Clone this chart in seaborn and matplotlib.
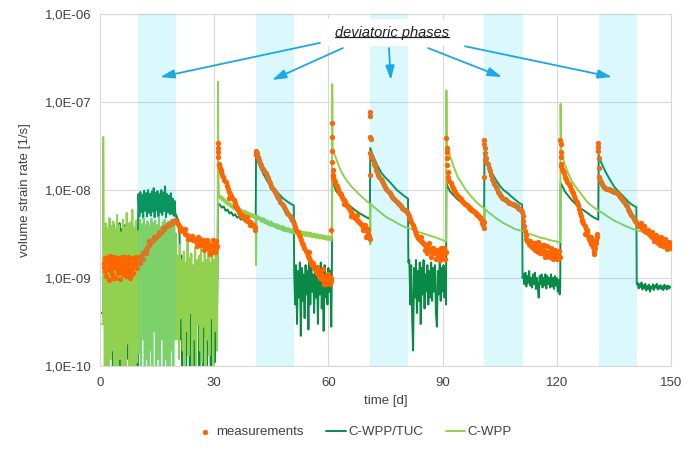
import numpy as np
import pandas as pd
import matplotlib
matplotlib.use("Agg")
import matplotlib.pyplot as plt
from matplotlib.ticker import FixedLocator, FuncFormatter, NullLocator
from matplotlib.lines import Line2D
import seaborn as sns

# ---------------- data (time [d], rate in units of 1e-9 1/s) ----------------
UNIT = 1e-9

MEAS_A = [(1.0,1.5),(1.1,1.35),(1.2,1.2),(1.4,1.7),(1.5,1.6),(1.6,1.05),(1.8,1.6),(1.9,1.25),(2.0,1.3),(2.2,1.75),(2.3,1.5),(2.4,0.95),(2.6,1.45),(2.7,1.8),(2.8,1.2),(3.0,1.7),(3.1,1.3),(3.2,1.1),(3.4,1.55),(3.5,1.0),(3.6,1.35),(3.8,1.75),(3.9,1.45),(4.0,1.0),(4.2,1.6),(4.3,1.7),(4.4,1.25),(4.6,1.7),(4.7,1.3),(4.8,1.15),(5.0,1.5),(5.1,1.2),(5.2,0.98),(5.4,1.65),(5.5,1.55),(5.6,1.3),(5.8,1.75),(5.9,1.4),(6.0,1.1),(6.2,1.45),(6.3,1.75),(6.4,1.2),(6.6,1.7),(6.7,1.25),(6.8,1.05),(7.0,1.6),(7.1,1.15),(7.2,1.35),(7.4,1.75),(7.5,1.5),(7.6,1.2),(7.8,1.5),(7.9,1.65),(8.0,1.0),(8.2,1.65),(8.3,1.1),(8.4,1.3),(8.6,1.7),(8.7,1.45),(8.8,1.15),(9.0,1.55),(9.1,1.6),(9.2,1.4),(9.4,1.75),(9.5,1.5),(9.6,1.3),(9.8,1.6),(9.9,1.7)]
MEAS_B = [(10.0,1.6),(10.4,1.75),(10.6,1.5),(10.8,1.8),(11.2,1.9),(11.4,1.65),(11.6,2.0),(12.0,2.1),(12.2,1.9),(12.4,2.2),(12.8,2.35),(13.0,2.6),(13.2,2.5),(13.6,2.6),(14.0,2.7),(14.2,2.9),(14.4,2.85),(14.8,2.95),(15.2,3.05),(15.4,3.3),(15.6,3.2),(16.0,3.3),(16.4,3.45),(16.6,3.7),(16.8,3.6),(17.2,3.75),(17.6,3.9),(17.8,4.1),(18.0,4.0),(18.4,4.15),(18.8,4.25),(19.0,4.5),(19.2,4.35),(19.6,4.4),(19.8,4.6),(20.0,4.3)]
MEAS_C = [(20.4,4.1),(20.8,3.9),(21.0,3.4),(21.2,3.7),(21.6,3.5),(22.0,3.4),(22.2,3.6),(22.4,3.2),(22.8,3.1),(23.0,2.8),(23.2,3.0),(23.6,2.9),(24.0,2.8),(24.2,3.0),(24.4,2.7),(24.8,2.75),(25.2,2.6),(25.4,2.3),(25.6,2.5),(25.8,2.9),(26.0,2.6),(26.2,2.8),(26.4,2.4),(26.8,2.5),(27.0,2.7),(27.2,2.3),(27.4,2.1),(27.6,2.45),(28.0,2.2),(28.2,2.7),(28.4,2.5),(28.8,2.1),(28.9,1.85),(29.2,2.35),(29.4,1.95),(29.6,2.2),(29.8,2.7),(30.0,2.4),(30.2,2.0),(30.4,2.2),(30.6,2.6),(30.8,2.3)]
MEAS_D = [(31.0,34),(31.0,27),(31.05,30),(31.1,24),(31.2,20),(31.35,19),(31.5,18),(31.7,17),(31.9,16),(32.1,15),(32.4,14),(32.7,13),(33.0,12.2),(33.3,11.2),(33.6,10.3),(33.9,9.6),(34.0,8.2),(34.2,9.0),(34.5,8.5),(34.8,8.1),(35.1,7.6),(35.4,7.1),(35.5,6.5),(35.7,6.6),(36.0,6.2),(36.3,5.9),(36.6,5.6),(36.9,5.4),(37.0,5.0),(37.2,5.2),(37.5,5.0),(37.8,4.9),(38.1,4.8),(38.4,4.6),(38.5,4.9),(38.7,4.5),(39.0,4.4),(39.3,4.3),(39.5,4.0),(39.6,4.2),(39.9,4.1),(40.2,4.0),(40.5,3.9),(40.6,3.5),(40.8,3.8)]
MEAS_E = [(41.0,28),(41.0,25),(41.1,27),(41.25,26),(41.4,24),(41.6,23),(41.8,22),(42.0,20.5),(42.3,19),(42.6,18),(42.9,17.3),(43.2,16.5),(43.5,15.5),(43.8,14.5),(44.1,13.6),(44.4,12.8),(44.7,12.0),(45.0,11.2),(45.3,10.6),(45.6,10.1),(45.9,9.6),(46.2,9.1),(46.5,8.6),(46.8,8.2),(47.1,7.8),(47.4,7.4),(47.7,7.0),(48.0,6.7),(48.3,6.4),(48.6,6.1),(48.9,5.8),(49.2,5.5),(49.5,5.3),(49.8,5.0),(50.1,4.8),(50.4,4.6),(50.7,4.4),(51.0,4.1),(51.3,3.8),(51.6,3.5),(51.9,3.3),(52.2,3.1),(52.5,2.9),(52.8,2.7),(53.1,2.5),(53.4,2.35),(53.7,2.2),(54.0,2.05),(54.3,1.9),(54.6,1.8),(54.9,1.7),(55.0,2.0),(55.2,1.6),(55.5,1.5),(55.8,1.4),(56.0,1.5),(56.1,1.3),(56.4,1.25),(56.7,1.2),(57.0,1.15),(57.0,1.35),(57.3,1.1),(57.5,1.2),(57.6,1.05),(57.9,1.0),(58.0,1.1),(58.2,0.98),(58.5,0.95),(58.5,1.25),(58.8,0.92),(58.8,0.85),(59.1,0.9),(59.0,1.05),(59.4,0.95),(59.5,0.85),(59.7,0.9),(59.8,1.0),(60.0,0.93),(60.0,1.1),(60.3,0.95),(60.5,0.85),(60.6,0.92),(60.8,1.0),(60.8,3.5)]
MEAS_F = [(61.0,58),(61.0,40),(61.0,28),(61.05,21),(61.1,17),(61.15,15),(61.2,14),(61.4,13),(61.7,12.2),(62.0,11.5),(62.3,11.0),(62.6,10.3),(62.9,9.6),(63.2,9.0),(63.5,8.4),(63.8,8.0),(64.0,7.0),(64.1,7.6),(64.4,7.3),(64.7,6.9),(65.0,6.5),(65.3,6.2),(65.6,5.9),(65.9,5.6),(66.0,5.0),(66.2,5.3),(66.5,5.1),(66.8,4.9),(67.1,4.8),(67.4,4.6),(67.5,5.2),(67.7,4.4),(68.0,4.3),(68.3,4.2),(68.6,4.1),(68.9,4.0),(69.0,3.5),(69.2,3.8),(69.5,3.7),(69.6,4.0),(69.8,3.5),(70.0,2.9),(70.1,3.4),(70.2,3.0),(70.4,3.2),(70.5,3.6),(70.7,3.0),(70.8,2.8)]
MEAS_G = [(70.9,15),(71.0,77),(71.05,70),(71.0,40),(71.1,38),(71.05,26),(71.3,24),(71.6,22),(71.9,20),(72.2,18.5),(72.5,17),(72.8,16),(73.1,15),(73.4,14),(73.7,13.2),(74.0,12.5),(74.3,11.9),(74.6,11.4),(74.9,10.9),(75.2,10.4),(75.5,10.0),(75.8,9.6),(76.1,9.2),(76.4,8.8),(76.7,8.4),(77.0,8.1),(77.3,7.8),(77.6,7.6),(77.9,7.3),(78.2,7.1),(78.5,6.9),(78.8,6.7),(79.1,6.5),(79.4,6.3),(79.7,6.1),(80.0,6.0),(80.3,5.8),(80.6,5.6),(80.9,5.3),(81.2,5.0),(81.5,4.7),(81.8,4.3),(82.1,4.0),(82.4,3.7),(82.7,3.4),(83.0,3.2),(83.3,3.0),(83.6,2.85),(83.9,2.75),(84.2,2.65),(84.4,2.9),(84.5,2.55),(84.8,2.5),(85.1,2.45),(85.4,2.4),(85.5,2.1),(85.7,2.3),(86.0,2.25),(86.0,1.9),(86.3,2.2),(86.5,2.5),(86.6,2.1),(86.9,2.05),(87.0,1.75),(87.2,2.0),(87.5,1.95),(87.6,2.2),(87.8,1.9),(88.1,1.9),(88.2,1.65),(88.4,1.85),(88.6,2.1),(88.7,1.85),(89.0,1.9),(89.2,1.6),(89.3,1.8),(89.6,1.95),(89.6,2.2),(89.9,1.85),(90.0,1.7),(90.2,2.0),(90.4,2.2),(90.5,1.9),(90.7,1.65),(90.8,1.95)]
MEAS_H = [(91.0,39),(91.05,30),(91.1,27),(91.1,23),(91.15,19),(91.3,16),(91.5,14),(91.8,12.8),(92.1,12.0),(92.4,11.2),(92.7,10.6),(93.0,10.0),(93.3,9.5),(93.6,9.0),(93.9,8.7),(94.2,8.4),(94.5,8.1),(94.8,7.8),(95.1,7.5),(95.4,7.3),(95.7,7.1),(96.0,6.9),(96.3,6.7),(96.6,6.5),(96.9,6.3),(97.2,6.2),(97.5,6.0),(97.8,5.9),(98.1,5.7),(98.4,5.6),(98.7,5.4),(99.0,5.3),(99.3,5.1),(99.6,5.0),(99.9,4.8),(100.2,4.7),(100.4,4.2),(100.5,4.5),(100.6,4.0),(100.8,4.3),(100.9,3.7)]
MEAS_I = [(101.0,37),(101.0,33),(101.05,30),(101.1,26),(101.15,22),(101.0,14),(101.3,23),(101.5,21),(101.8,19.5),(102.1,18),(102.4,16.5),(102.7,15),(103.0,13.5),(103.3,12.5),(103.6,11.6),(103.9,10.8),(104.2,10.2),(104.5,9.6),(104.8,9.2),(105.1,8.8),(105.4,8.5),(105.7,8.2),(106.0,8.0),(106.3,7.8),(106.6,7.6),(106.9,7.5),(107.2,7.3),(107.5,7.2),(107.8,7.1),(108.1,7.0),(108.4,6.9),(108.7,6.8),(109.0,6.7),(109.3,6.6),(109.6,6.5),(109.9,6.3),(110.2,6.1),(110.5,5.9),(110.8,5.6),(111.0,5.0),(111.2,4.4),(111.4,3.9),(111.6,3.4),(111.8,3.1),(112.0,2.8),(112.3,2.6),(112.6,2.45),(112.9,2.35),(113.0,2.6),(113.2,2.3),(113.5,2.4),(113.8,2.2),(114.0,2.5),(114.1,2.35),(114.4,2.1),(114.7,2.3),(115.0,2.0),(115.0,2.55),(115.3,2.2),(115.5,1.9),(115.6,1.95),(115.9,2.15),(116.0,2.4),(116.2,1.9),(116.5,2.1),(116.7,2.4),(116.8,1.85),(117.0,1.75),(117.1,2.0),(117.4,1.8),(117.5,2.3),(117.7,1.95),(118.0,1.9),(118.3,1.75),(118.5,2.2),(118.6,2.0),(118.9,1.8),(119.0,1.65),(119.2,1.85),(119.5,1.7),(119.5,2.1),(119.8,1.9),(120.0,1.65),(120.1,1.75),(120.4,1.8),(120.5,2.05),(120.7,1.7),(120.9,1.75)]
MEAS_J = [(120.9,37),(121.0,33),(121.0,27),(121.05,24),(121.1,20),(121.2,18.5),(121.4,17.5),(121.6,16.5),(121.9,15.5),(122.2,14.2),(122.5,13.2),(122.8,12.3),(123.1,11.6),(123.4,11.0),(123.7,10.4),(124.0,9.8),(124.3,9.2),(124.6,8.6),(124.9,8.0),(125.2,7.3),(125.5,6.7),(125.8,6.1),(126.1,5.5),(126.4,5.0),(126.5,4.4),(126.7,4.6),(127.0,4.2),(127.3,3.9),(127.5,3.2),(127.6,3.6),(127.9,3.3),(128.0,3.5),(128.2,3.0),(128.5,2.8),(128.8,2.6),(129.0,2.9),(129.1,2.45),(129.4,2.25),(129.5,2.6),(129.7,2.05),(129.8,1.85),(130.0,2.2),(130.2,2.7),(130.3,2.5),(130.5,3.2),(130.6,2.9)]
MEAS_K = [(130.8,34),(130.85,31),(130.9,28),(131.0,23),(131.05,18),(131.1,14),(131.3,13),(131.5,12.2),(131.8,11.6),(132.1,11.2),(132.4,10.9),(132.7,10.6),(133.0,10.4),(133.3,10.3),(133.6,10.2),(133.9,10.0),(134.2,9.9),(134.5,9.8),(134.8,9.7),(135.1,9.6),(135.4,9.4),(135.7,9.2),(136.0,9.0),(136.3,8.7),(136.6,8.4),(136.9,8.1),(137.2,7.8),(137.5,7.5),(137.8,7.1),(138.1,6.8),(138.4,6.5),(138.7,6.1),(139.0,5.8),(139.3,5.5),(139.6,5.2),(139.9,4.9),(140.2,4.7),(140.5,4.5),(140.8,4.3),(141.1,4.1),(141.4,4.0),(141.7,3.9),(142.0,3.8),(142.0,4.2),(142.3,3.7),(142.6,3.6),(142.9,3.5),(143.0,3.9),(143.2,3.4),(143.5,3.35),(143.8,3.3),(144.0,3.5),(144.1,3.2),(144.4,3.1),(144.7,3.0),(145.0,2.95),(145.0,3.3),(145.3,2.9),(145.5,2.6),(145.6,2.85),(145.9,2.8),(146.0,3.1),(146.2,2.75),(146.5,2.7),(146.5,2.5),(146.8,2.65),(147.0,2.4),(147.1,2.6),(147.4,2.55),(147.5,2.9),(147.7,2.5),(148.0,2.5),(148.0,2.3),(148.3,2.45),(148.5,2.75),(148.6,2.4),(148.9,2.4),(149.0,2.15),(149.2,2.35),(149.5,2.3),(149.5,2.55),(149.8,2.25),(150.0,2.2),(150.0,2.4)]

# C-WPP/TUC model (dark green)
TUC_A = [(0.4,0.4),(0.8,0.4),(1.125,3.6),(1.375,0.15),(1.625,3.9),(1.875,0.4),(2.125,3.4),(2.375,0.08),(2.625,4.1),(2.875,0.22),(3.125,3.7),(3.375,0.06),(3.625,4.0),(3.875,0.18),(4.125,3.5),(4.375,0.07),(4.625,3.9),(4.875,0.3),(5.125,4.2),(5.375,0.09),(5.625,3.6),(5.875,0.14),(6.125,3.8),(6.375,0.05),(6.625,4.0),(6.875,0.25),(7.125,3.5),(7.375,0.12),(7.625,4.1),(7.875,0.06),(8.125,3.7),(8.375,0.16),(8.625,3.9),(8.875,0.08),(9.125,3.6),(9.375,0.2),(9.625,4.0),(9.875,0.1)]
TUC_B = [(10.0,4.0),(10.1,9.0),(10.35,5.0),(10.6,9.5),(10.85,5.6),(11.1,8.8),(11.35,4.8),(11.6,9.8),(11.85,5.8),(12.1,9.2),(12.35,5.0),(12.6,10.0),(12.85,5.5),(13.1,9.0),(13.35,5.1),(13.6,9.6),(13.85,5.7),(14.1,10.5),(14.35,4.9),(14.6,9.3),(14.85,5.9),(15.1,9.7),(15.35,5.0),(15.6,8.9),(15.85,5.6),(16.1,10.0),(16.35,5.2),(16.6,9.4),(16.85,5.8),(17.1,11.0),(17.35,4.9),(17.6,9.0),(17.85,5.6),(18.1,8.6),(18.35,5.3),(18.6,9.2),(18.85,5.4),(19.1,8.0),(19.35,5.1),(19.6,7.5),(19.85,5.0)]
TUC_C = [(20.0,5.2),(20.3,4.8),(20.6,4.5),(20.9,3.0),(21.1,0.2),(21.35,1.8),(21.6,0.08),(21.85,1.5),(22.1,0.3),(22.35,1.2),(22.6,0.06),(22.85,1.4),(23.1,0.15),(23.35,1.0),(23.6,0.07),(23.85,1.3),(24.1,0.25),(24.35,0.9),(24.6,0.06),(24.85,1.1),(25.1,0.12),(25.35,1.4),(25.6,0.35),(25.85,1.0),(26.1,0.08),(26.35,1.2),(26.6,0.18),(26.85,0.9),(27.1,0.06),(27.35,1.3),(27.6,0.22),(27.85,1.0),(28.1,0.09),(28.35,1.1),(28.6,0.14),(28.85,1.2),(29.1,0.06),(29.35,0.9),(29.6,0.28),(29.85,1.0),(30.1,0.11),(30.35,1.3),(30.6,0.2),(30.85,1.0)]
TUC_D = [(31.0,7.0),(31.5,6.8),(32.0,6.3),(32.5,6.5),(33.0,5.8),(33.5,6.0),(34.0,5.4),(34.5,5.6),(35.0,5.1),(35.5,5.3),(36.0,4.85),(36.5,5.0),(37.0,4.6),(37.5,4.75),(38.0,4.4),(38.5,4.5),(39.0,4.15),(39.5,4.25),(40.0,3.95),(40.5,4.0),(40.9,3.8),(41.0,24),(41.5,21),(42.0,18.5),(43.0,15),(44.0,12.5),(45.0,11),(46.0,10),(47.0,9.0),(48.0,8.1),(49.0,7.5),(50.0,7.0),(50.9,6.7),(51.0,1.2),(51.25,0.5),(51.5,1.4),(51.75,0.3),(52.0,1.2),(52.25,0.6),(52.5,1.5),(52.75,0.22),(53.0,1.3),(53.25,0.55),(53.5,1.1),(53.75,0.35),(54.0,1.4),(54.25,0.65),(54.5,1.2),(54.75,0.26),(55.0,1.5),(55.25,0.5),(55.5,1.3),(55.75,0.7),(56.0,1.1),(56.25,0.4),(56.5,1.4),(56.75,0.6),(57.0,1.2),(57.25,0.3),(57.5,1.3),(57.75,0.65),(58.0,1.5),(58.25,0.45),(58.5,1.2),(58.75,0.25),(59.0,1.4),(59.25,0.6),(59.5,1.1),(59.75,0.5),(60.0,1.3),(60.25,0.7),(60.5,1.2),(60.75,0.28),(60.9,1.0)]
TUC_E = [(61.0,14),(61.3,12),(62.0,9.8),(63.0,8.6),(64.0,7.6),(65.0,7.0),(66.0,6.4),(67.0,5.9),(68.0,5.5),(69.0,5.2),(70.0,4.9),(70.9,4.7),(71.0,30),(71.5,26),(72.0,23),(73.0,18.5),(74.0,15.5),(75.0,13.8),(76.0,12.5),(77.0,11.2),(78.0,10.0),(79.0,9.2),(80.0,8.5),(80.9,8.0),(81.0,1.5),(81.25,1.6),(81.5,0.5),(81.75,1.4),(82.0,0.35),(82.25,0.15),(82.5,1.3),(82.75,0.6),(83.0,1.6),(83.25,0.4),(83.5,1.2),(83.75,0.55),(84.0,1.5),(84.25,0.3),(84.5,1.3),(84.75,0.65),(85.0,1.6),(85.25,0.45),(85.5,1.1),(85.75,0.7),(86.0,1.4),(86.25,0.5),(86.5,1.2),(86.75,0.6),(87.0,1.5),(87.25,0.55),(87.5,1.3),(87.75,0.7),(88.0,1.4),(88.25,0.4),(88.5,0.28),(88.75,1.2),(89.0,0.65),(89.25,1.5),(89.5,0.55),(89.75,1.3),(90.0,0.7),(90.25,1.4),(90.5,0.6),(90.75,1.2),(90.9,0.5)]
TUC_F = [(91.0,12),(91.5,10.5),(92.0,9.6),(93.0,8.6),(94.0,7.8),(95.0,7.2),(96.0,6.6),(97.0,6.1),(98.0,5.7),(99.0,5.3),(100.0,5.0),(100.9,4.8),(101.0,26),(101.5,22.5),(102.0,19.5),(103.0,15.5),(104.0,13),(105.0,11.2),(106.0,10),(107.0,9.3),(108.0,8.5),(109.0,7.8),(110.0,7.2),(110.9,6.8),(111.0,1.0),(111.25,1.1),(111.5,0.85),(111.75,1.15),(112.0,0.8),(112.25,1.05),(112.5,0.88),(112.75,1.2),(113.0,0.82),(113.25,1.0),(113.5,0.78),(113.75,1.1),(114.0,0.85),(114.25,1.15),(114.5,0.75),(114.75,1.0),(115.0,0.8),(115.25,0.6),(115.5,1.05),(115.75,0.85),(116.0,1.1),(116.25,0.78),(116.5,1.0),(116.75,0.83),(117.0,1.1),(117.25,0.76),(117.5,1.05),(117.75,0.85),(118.0,1.0),(118.25,0.78),(118.5,1.1),(118.75,0.8),(119.0,1.0),(119.25,0.75),(119.5,1.05),(119.75,0.82),(120.0,1.0),(120.25,0.7),(120.5,0.95),(120.75,0.65),(120.9,0.8)]
TUC_G = [(121.0,12),(121.5,11),(122.0,9.8),(123.0,8.6),(124.0,7.6),(125.0,6.9),(126.0,6.3),(127.0,5.9),(128.0,5.5),(129.0,5.1),(130.0,4.8),(130.9,4.6),(131.0,25),(131.5,21.5),(132.0,19),(133.0,15.5),(134.0,13),(135.0,11),(136.0,9.8),(137.0,8.9),(138.0,8.0),(139.0,7.2),(140.0,6.7),(140.9,6.4),(141.0,0.85),(141.25,0.88),(141.5,0.76),(141.75,0.85),(142.0,0.79),(142.25,0.89),(142.5,0.74),(142.75,0.83),(143.0,0.77),(143.25,0.86),(143.5,0.72),(143.75,0.81),(144.0,0.75),(144.25,0.84),(144.5,0.7),(144.75,0.8),(145.0,0.76),(145.25,0.85),(145.5,0.73),(145.75,0.82),(146.0,0.78),(146.25,0.86),(146.5,0.74),(146.75,0.81),(147.0,0.76),(147.25,0.83),(147.5,0.75),(147.75,0.8),(148.0,0.73),(148.25,0.84),(148.5,0.77),(148.75,0.81),(149.0,0.74),(149.25,0.82),(149.5,0.76),(149.75,0.8),(150.0,0.78)]

# C-WPP model (light green)
WPP_A = [(0.4,0.3),(0.8,0.3),(0.85,40),(0.95,2.5),(1.0,3.8),(1.25,0.08),(1.5,4.2),(1.75,0.06),(2.0,3.5),(2.25,0.1),(2.5,4.8),(2.75,0.12),(3.0,3.9),(3.25,0.15),(3.5,4.4),(3.75,0.08),(4.0,3.6),(4.25,0.07),(4.5,5.2),(4.75,0.09),(5.0,4.0),(5.25,0.12),(5.5,3.3),(5.75,0.07),(6.0,4.6),(6.25,0.06),(6.5,3.8),(6.75,0.1),(7.0,5.5),(7.25,0.18),(7.5,4.1),(7.75,0.08),(8.0,4.3),(8.25,0.1),(8.5,6.0),(8.75,0.09),(9.0,3.7),(9.25,0.07),(9.5,4.5),(9.75,0.11),(10.0,3.4)]
WPP_B = [(10.25,0.14),(10.5,4.6),(10.75,0.09),(11.0,4.1),(11.25,0.2),(11.5,4.8),(11.75,0.08),(12.0,4.0),(12.25,0.12),(12.5,4.4),(12.75,0.06),(13.0,3.9),(13.25,0.15),(13.5,4.7),(13.75,0.09),(14.0,4.2),(14.25,0.25),(14.5,4.5),(14.75,0.08),(15.0,4.0),(15.25,0.12),(15.5,4.9),(15.75,0.09),(16.0,3.8),(16.25,0.2),(16.5,4.3),(16.75,0.07),(17.0,4.6),(17.25,0.12),(17.5,4.1),(17.75,0.1),(18.0,4.4),(18.25,0.06),(18.5,3.9),(18.75,0.15),(19.0,4.5),(19.25,0.08),(19.5,4.0),(19.75,0.2),(20.0,3.2)]
WPP_C = [(20.25,0.2),(20.5,1.8),(20.75,0.12),(21.0,2.4),(21.25,0.35),(21.5,1.6),(21.75,0.15),(22.0,2.0),(22.25,0.06),(22.5,1.5),(22.75,0.25),(23.0,2.6),(23.25,0.13),(23.5,1.7),(23.75,0.4),(24.0,1.9),(24.25,0.1),(24.5,1.4),(24.75,0.2),(25.0,2.2),(25.25,0.07),(25.5,1.6),(25.75,0.3),(26.0,1.8),(26.25,0.15),(26.5,2.3),(26.75,0.11),(27.0,1.5),(27.25,0.28),(27.5,1.9),(27.75,0.06),(28.0,1.6),(28.25,0.2),(28.5,2.1),(28.75,0.13),(29.0,1.5),(29.25,0.35),(29.5,1.8),(29.75,0.1),(30.0,1.6),(30.25,0.25),(30.5,1.9),(30.75,0.15),(30.9,1.5)]
WPP_D = [(31.0,170),(31.1,15),(31.25,8.8),(31.5,8.0),(31.75,8.6),(32.0,7.7),(32.25,8.3),(32.5,7.4),(32.75,7.9),(33.0,7.0),(33.25,7.6),(33.5,6.8),(33.75,7.3),(34.0,6.6),(34.25,7.1),(34.5,6.3),(34.75,6.8),(35.0,6.1),(35.25,6.7),(35.5,5.9),(35.75,6.4),(36.0,5.8),(36.25,6.3),(36.5,5.6),(36.75,6.1),(37.0,5.5),(37.25,6.0),(37.5,5.4),(37.75,5.8),(38.0,5.3),(38.25,5.8),(38.5,5.1),(38.75,5.6),(39.0,5.1),(39.25,5.5),(39.5,4.9),(39.75,5.4),(40.0,4.9),(40.25,5.3),(40.5,4.8),(40.75,5.2),(40.95,4.9),(41.0,1.4),(41.1,5.0),(41.25,4.7),(41.5,5.1),(41.75,4.6),(42.0,4.9),(42.25,4.4),(42.5,4.8),(42.75,4.3),(43.0,4.8),(43.25,4.2),(43.5,4.6),(43.75,4.1),(44.0,4.5),(44.25,4.0),(44.5,4.4),(44.75,3.9),(45.0,4.4),(45.25,3.9),(45.5,4.2),(45.75,3.8),(46.0,4.1),(46.25,3.7),(46.5,4.1),(46.75,3.6),(47.0,4.0),(47.25,3.6),(47.5,3.9),(47.75,3.5),(48.0,3.9),(48.25,3.4),(48.5,3.8),(48.75,3.4),(49.0,3.7),(49.25,3.35),(49.5,3.7),(49.75,3.3),(50.0,3.6),(50.25,3.25),(50.5,3.6),(50.75,3.2),(51.0,3.55),(51.25,3.2),(51.5,3.5),(51.75,3.15),(52.0,3.45),(52.25,3.1),(52.5,3.45),(52.75,3.1),(53.0,3.4),(53.25,3.05),(53.5,3.35),(53.75,3.0),(54.0,3.35),(54.25,3.0),(54.5,3.3),(54.75,2.95),(55.0,3.3),(55.25,2.95),(55.5,3.25),(55.75,2.9),(56.0,3.2),(56.25,2.9),(56.5,3.2),(56.75,2.85),(57.0,3.15),(57.25,2.85),(57.5,3.1),(57.75,2.8),(58.0,3.1),(58.25,2.8),(58.5,3.05),(58.75,2.75),(59.0,3.05),(59.25,2.75),(59.5,3.0),(59.75,2.7),(60.0,3.0),(60.25,2.7),(60.5,2.95),(60.75,2.65),(60.95,2.9)]
WPP_E = [(61.0,160),(61.1,30),(61.5,26),(62.0,23),(63.0,17.5),(64.0,14.5),(65.0,12.5),(66.0,11),(67.0,10),(68.0,9.0),(69.0,8.2),(70.0,7.5),(70.9,7.0),(71.0,2.4),(71.1,6.9),(72.0,6.4),(73.0,5.9),(74.0,5.4),(75.0,5.0),(76.0,4.7),(77.0,4.5),(78.0,4.2),(79.0,4.0),(80.0,3.8),(81.0,3.7),(82.0,3.6),(83.0,3.4),(84.0,3.3),(85.0,3.2),(86.0,3.1),(87.0,3.0),(88.0,2.9),(89.0,2.8),(90.0,2.7),(90.9,2.6)]
WPP_F = [(91.0,135),(91.1,32),(91.5,29),(92.0,24),(93.0,18),(94.0,14),(95.0,12),(96.0,10.2),(97.0,9.0),(98.0,8.0),(99.0,7.2),(100.0,6.6),(100.9,6.2),(101.0,4.5),(101.1,6.1),(102.0,5.6),(103.0,5.2),(104.0,4.8),(105.0,4.5),(106.0,4.2),(107.0,4.0),(108.0,3.8),(109.0,3.6),(110.0,3.5),(111.0,3.4),(112.0,3.25),(113.0,3.15),(114.0,3.05),(115.0,2.95),(116.0,2.85),(117.0,2.8),(118.0,2.7),(119.0,2.65),(120.0,2.6),(120.9,2.55)]
WPP_G = [(121.0,95),(121.1,30),(121.5,25),(122.0,20),(123.0,15.5),(124.0,12.5),(125.0,10.8),(126.0,9.5),(127.0,8.3),(128.0,7.3),(129.0,6.7),(130.0,6.2),(131.0,5.8),(132.0,5.5),(133.0,5.1),(134.0,4.8),(135.0,4.5),(136.0,4.3),(137.0,4.1),(138.0,3.9),(139.0,3.75),(140.0,3.6),(141.0,3.5),(142.0,3.4),(143.0,3.25),(144.0,3.1)]

PHASES = [(10, 20), (41, 51), (71, 81), (101, 111), (131, 141)]
X_TICKS = [0, 30, 60, 90, 120, 150]
Y_TICKS = [1e-10, 1e-9, 1e-8, 1e-7, 1e-6]
LABELS = ["measurements", "C-WPP/TUC", "C-WPP"]

C_MEAS = "#ff6600"
C_TUC = "#0a8a47"
C_WPP = "#92d050"
C_BAND = "#0fd7f2"
C_ARROW = "#1ea7e6"
C_TEXT = "#404040"
C_GRID = "#d9d9d9"


def frame(*segments):
    rows = [p for seg in segments for p in seg]
    df = pd.DataFrame(rows, columns=["t", "v"])
    df["v"] = df["v"] * UNIT
    return df


meas = frame(MEAS_A, MEAS_B, MEAS_C, MEAS_D, MEAS_E, MEAS_F, MEAS_G, MEAS_H, MEAS_I, MEAS_J, MEAS_K)
tuc = frame(TUC_A, TUC_B, TUC_C, TUC_D, TUC_E, TUC_F, TUC_G)
wpp = frame(WPP_A, WPP_B, WPP_C, WPP_D, WPP_E, WPP_F, WPP_G)

sns.set_theme(style="white")
plt.rcParams["font.family"] = ["Liberation Sans", "DejaVu Sans"]

fig = plt.figure(figsize=(6.98, 4.51), dpi=100)
ax = fig.add_axes([100 / 698, 85 / 451, 571 / 698, 352 / 451])
ax.set_yscale("log")

sns.lineplot(data=tuc, x="t", y="v", ax=ax, sort=False, estimator=None,
             color=C_TUC, lw=1.4, label=LABELS[1], legend=False, zorder=2)
sns.lineplot(data=wpp, x="t", y="v", ax=ax, sort=False, estimator=None,
             color=C_WPP, lw=1.4, label=LABELS[2], legend=False, zorder=3)
sns.scatterplot(data=meas, x="t", y="v", ax=ax, color=C_MEAS, s=15,
                linewidth=0, label=LABELS[0], legend=False, zorder=4)

for a, b in PHASES:
    ax.axvspan(a, b, color=C_BAND, alpha=0.15, lw=0, zorder=5)

ax.set_xlim(X_TICKS[0], X_TICKS[-1])
ax.set_ylim(Y_TICKS[0], Y_TICKS[-1])
ax.xaxis.set_major_locator(FixedLocator(X_TICKS))
ax.yaxis.set_major_locator(FixedLocator(Y_TICKS))
ax.yaxis.set_minor_locator(NullLocator())
ax.yaxis.set_major_formatter(FuncFormatter(
    lambda v, p: "1,0E{}{:02d}".format("-" if v < 1 else "+", abs(int(round(np.log10(v)))))))
ax.tick_params(axis="both", length=0, labelsize=9.5, labelcolor=C_TEXT)
ax.tick_params(axis="x", pad=8)
ax.tick_params(axis="y", pad=6)
ax.grid(True, color=C_GRID, lw=0.8, zorder=0)
ax.set_axisbelow(True)
for s in ax.spines.values():
    s.set_color(C_GRID)
    s.set_linewidth(0.8)

ax.set_xlabel("time [d]", fontsize=9.5, color=C_TEXT, labelpad=4)
ax.set_ylabel("volume strain rate [1/s]", fontsize=9.5, color=C_TEXT, labelpad=10)

# annotation
txt = ax.text(76.7, 6.1e-7, "deviatoric phases", style="italic", fontsize=10.5,
              color="#222222", ha="center", va="center", zorder=8,
              bbox=dict(facecolor="white", edgecolor="none", boxstyle="square,pad=0.45"))
ARROWS = [((57.8, 4.7e-7), (15.8, 1.92e-7)),
          ((63.8, 4.1e-7), (45.2, 1.78e-7)),
          ((75.9, 4.1e-7), (76.4, 1.78e-7)),
          ((86.2, 4.1e-7), (105.6, 1.92e-7)),
          ((95.9, 4.3e-7), (134.5, 1.92e-7))]
for start, end in ARROWS:
    ax.annotate("", xy=end, xytext=start, zorder=9,
                arrowprops=dict(arrowstyle="-|>,head_length=0.7,head_width=0.22",
                                color=C_ARROW, lw=1.3, shrinkA=0, shrinkB=0))

# legend
h, l = ax.get_legend_handles_labels()
order = [l.index(x) for x in LABELS]
fig.legend([h[i] for i in order], [l[i] for i in order], loc="center",
           bbox_to_anchor=(0.506, 0.042), ncol=3, frameon=False, fontsize=9.5,
           handlelength=1.5, handletextpad=0.15, columnspacing=1.7,
           scatterpoints=1, labelcolor=C_TEXT)

# underline for annotation text
fig.canvas.draw()
bb = txt.get_window_extent(renderer=fig.canvas.get_renderer())
inv = fig.transFigure.inverted()
(x0, y0), (x1, _) = inv.transform([(bb.x0, bb.y0 + 2.5), (bb.x1, bb.y0)])
fig.add_artist(Line2D([x0, x1], [y0, y0], color="#222222", lw=0.9, zorder=10))

fig.savefig("out.png", dpi=100)
